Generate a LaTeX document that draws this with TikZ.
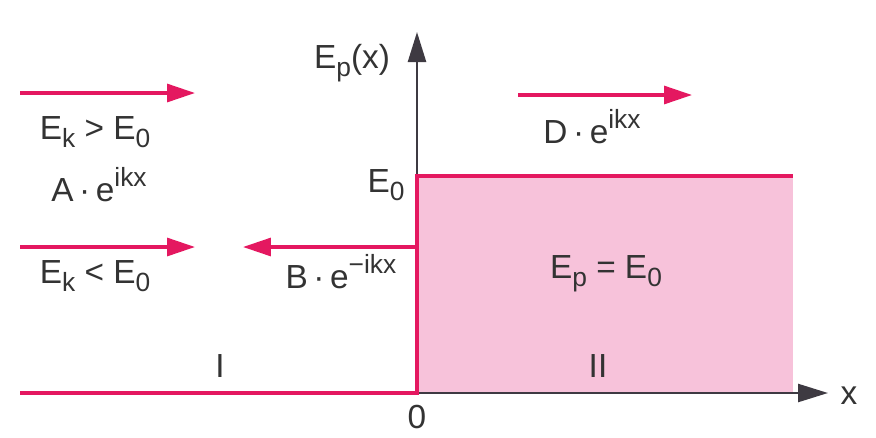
\documentclass[tikz,border=0pt]{standalone}
\usepackage{fontspec}
\setmainfont{Liberation Sans}
\usetikzlibrary{arrows.meta}

\definecolor{wave}{RGB}{228,24,96}
\definecolor{wall}{RGB}{247,194,218}
\definecolor{axisgray}{RGB}{62,58,66}
\newcommand{\lowidx}[1]{\raisebox{-0.45ex}{\fontsize{15}{15}\selectfont #1}}
\newcommand{\highidx}[1]{\raisebox{0.85ex}{\fontsize{15}{15}\selectfont #1}}

\begin{document}
\begin{tikzpicture}[x=0.02cm, y=-0.02cm,
  every node/.style={font=\fontsize{19}{22}\selectfont, text=black!80, inner sep=1pt},
  wavearrow/.style={wave, line width=1.8pt, -{Triangle[length=0.56cm, width=0.36cm]}},
  waveline/.style={wave, line width=1.8pt},
  axisarrow/.style={axisgray, line width=1.4pt, -{Triangle[length=0.6cm, width=0.36cm]}}]
  \useasboundingbox (0,0) rectangle (876,437);
  % barrier region II
  \fill[wall] (417,176) rectangle (793,393);
  \coordinate (O) at (417,393);
  \coordinate (L) at (20,393);
  \coordinate (top) at (417,176);
  \coordinate (topR) at (793,176);
  \coordinate (yend) at (417,32);
  \coordinate (xend) at (828,393);
  \draw[axisarrow] (top) -- (yend);
  \draw[axisarrow] (O) -- (xend);
  \draw[waveline] (L) -- (O) -- (top) -- (topR);
  % waves
  \coordinate (a1) at (20,93);   \coordinate (a2) at (195,93);
  \coordinate (c1) at (20,247);  \coordinate (c2) at (195,247);
  \coordinate (b1) at (417,247); \coordinate (b2) at (243,247);
  \coordinate (d1) at (518,95);  \coordinate (d2) at (692,95);
  \draw[wavearrow] (a1) -- (a2);
  \draw[wavearrow] (c1) -- (c2);
  \draw[wavearrow] (b1) -- (b2);
  \draw[wavearrow] (d1) -- (d2);
  % labels
  \node (Ep) at (352,63) {E\lowidx{p}(x)};
  \node (E0) at (386,185) {E\lowidx{0}};
  \node (zero) at (417,417) {0};
  \node (x) at (849,396) {x};
  \node (gt) at (95,132) {E\lowidx{k} > E\lowidx{0}};
  \node (A) at (99,185) {A\,·\,e\highidx{ikx}};
  \node (lt) at (95,276) {E\lowidx{k} < E\lowidx{0}};
  \node (B) at (341,272) {B\,·\,e\highidx{−ikx}};
  \node (D) at (592,127) {D\,·\,e\highidx{ikx}};
  \node (Ep0) at (606,274) {E\lowidx{p} = E\lowidx{0}};
  \node (I) at (220,366) {I};
  \node (II) at (598,366) {II};
\end{tikzpicture}
\end{document}
